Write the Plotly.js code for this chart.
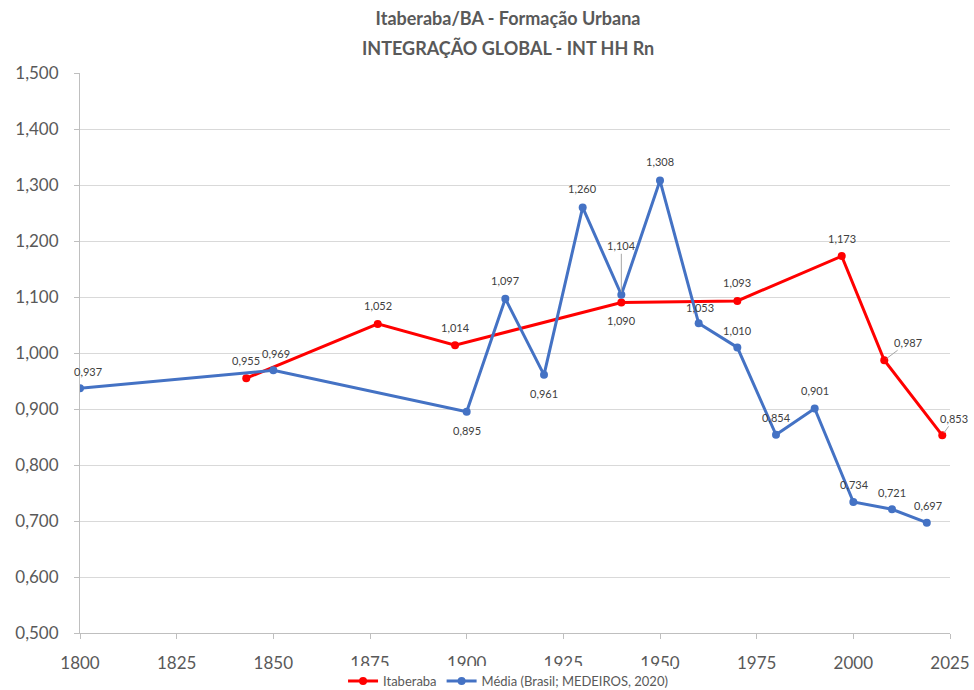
<!DOCTYPE html>
<html>
<head>
<meta charset="utf-8">
<script src="https://cdn.plot.ly/plotly-3.0.1.min.js"></script>
<style>html,body{margin:0;padding:0;background:#fff;}#chart{width:974px;height:690px;}</style>
</head>
<body>
<div id="chart"></div>
<script>
// Data
const itaberabaYears = [1843, 1877, 1897, 1940, 1970, 1997, 2008, 2023];
const itaberabaValues = [0.955, 1.052, 1.014, 1.090, 1.093, 1.173, 0.987, 0.853];
const mediaYears = [1800, 1850, 1900, 1910, 1920, 1930, 1940, 1950, 1960, 1970, 1980, 1990, 2000, 2010, 2019];
const mediaValues = [0.937, 0.969, 0.895, 1.097, 0.961, 1.260, 1.104, 1.308, 1.053, 1.010, 0.854, 0.901, 0.734, 0.721, 0.697];
const seriesNames = ["Itaberaba", "Média (Brasil; MEDEIROS, 2020)"];
const titleLine1 = "Itaberaba/BA - Formação Urbana";
const titleLine2 = "INTEGRAÇÃO GLOBAL - INT HH Rn";

// Label placement (pixels offsets; leader flag)
const itaberabaLabelOffsets = [[0,-18,0],[0,-18,0],[0,-18,0],[0,18,0],[0,-18,0],[0,-18,0],[24,-18,1],[12,-17,1]];
const mediaLabelOffsets = [[8,-17,0],[3,-17,0],[0,19,0],[0,-18,0],[0,19,0],[0,-19,0],[0,-49,1],[0,-19,0],[1,-16,0],[0,-17,0],[0,-17,0],[0,-18,0],[1,-17,0],[0,-17,0],[1,-17,0]];

const RED = "#ff0000", BLUE = "#4472c4";
const FONT = "Lato, 'Open Sans', sans-serif";
const fmt = v => v.toFixed(3).replace('.', ',');

const traces = [
  {x: itaberabaYears, y: itaberabaValues, name: seriesNames[0], type: "scatter", mode: "lines+markers",
   line: {color: RED, width: 3}, marker: {color: RED, size: 8}, hoverinfo: "skip"},
  {x: mediaYears, y: mediaValues, name: seriesNames[1], type: "scatter", mode: "lines+markers",
   line: {color: BLUE, width: 3}, marker: {color: BLUE, size: 8}, hoverinfo: "skip"}
];

const annotations = [];
function addLabels(xs, ys, offs) {
  xs.forEach((x, i) => {
    const [dx, dy, leader] = offs[i];
    const base = {x: x, y: ys[i], xref: "x", yref: "y", text: fmt(ys[i]),
      font: {family: FONT, size: 11, color: "#404040"}};
    if (leader) {
      annotations.push(Object.assign(base, {showarrow: true, arrowhead: 0, arrowwidth: 1,
        arrowcolor: "#a6a6a6", ax: dx, ay: dy, standoff: 3}));
    } else {
      annotations.push(Object.assign(base, {showarrow: false, xshift: dx, yshift: -dy}));
    }
  });
}
addLabels(itaberabaYears, itaberabaValues, itaberabaLabelOffsets);
addLabels(mediaYears, mediaValues, mediaLabelOffsets);

annotations.push({text: "<b>" + titleLine2 + "</b>", xref: "paper", yref: "paper", x: 0.492, y: 1.0446,
  xanchor: "center", yanchor: "middle", showarrow: false, font: {family: FONT, size: 18, color: "#595959"}});

const layout = {
  width: 974, height: 690,
  margin: {l: 80, r: 24, t: 73, b: 57},
  paper_bgcolor: "#fff", plot_bgcolor: "#fff",
  separators: ",.",
  font: {family: FONT, color: "#595959"},
  title: {text: "<b>" + titleLine1 + "</b>", x: 0.5216, xref: "container", y: 0.9725, yref: "container",
    xanchor: "center", yanchor: "middle", font: {family: FONT, size: 18, color: "#595959"}},
  xaxis: {range: [1800, 2025], tick0: 1800, dtick: 25, showgrid: false, zeroline: false, automargin: false,
    showline: true, linecolor: "#bfbfbf", linewidth: 1, ticks: "outside", ticklen: 5, tickcolor: "#bfbfbf",
    ticklabelstandoff: 10, tickfont: {family: FONT, size: 17, color: "#595959"}},
  yaxis: {range: [0.5, 1.5], dtick: 0.1, tick0: 0.5, tickformat: ".3f", showgrid: true, gridcolor: "#d9d9d9",
    zeroline: false, showline: true, linecolor: "#bfbfbf", ticks: "outside", ticklen: 5, tickcolor: "#bfbfbf",
    automargin: false, ticklabelstandoff: 12, tickfont: {family: FONT, size: 17, color: "#595959"}},
  showlegend: true,
  legend: {orientation: "h", x: 0.5216, xref: "container", xanchor: "center", y: 0.013, yref: "container", yanchor: "middle",
    font: {family: FONT, size: 13, color: "#595959"}, itemwidth: 30, tracegroupgap: 0},
  annotations: annotations
};

Plotly.newPlot("chart", traces, layout, {staticPlot: true, displayModeBar: false});
</script>
</body>
</html>
